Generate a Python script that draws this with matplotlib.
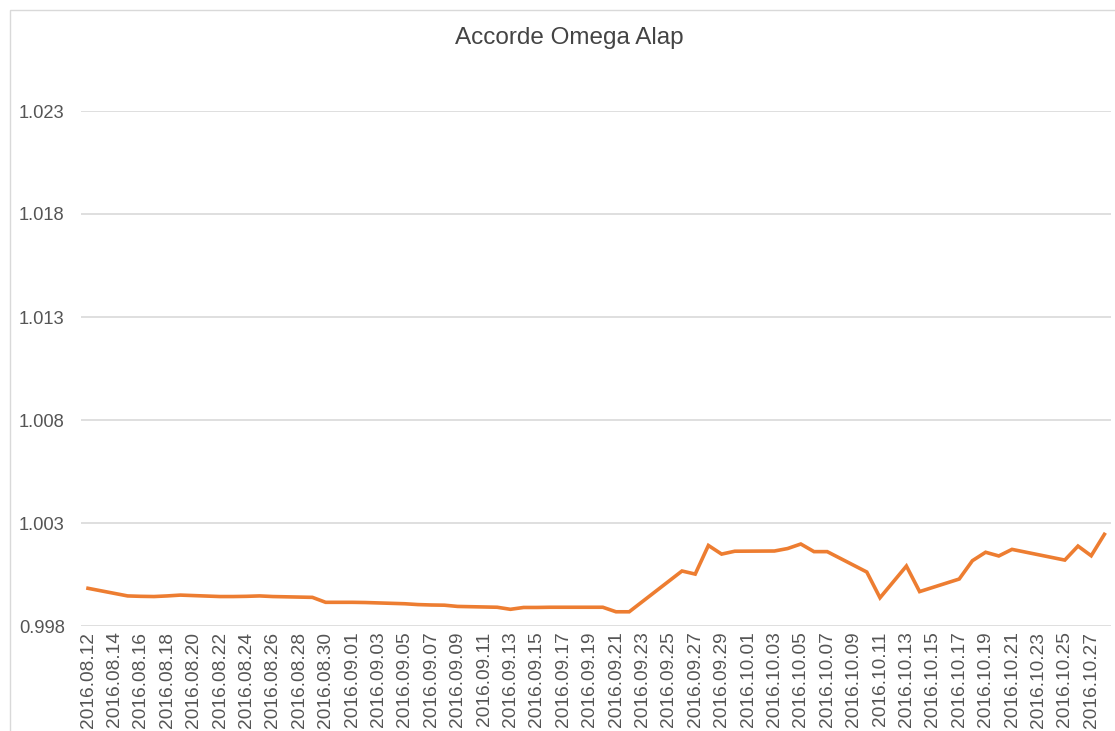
import numpy as np
import pandas as pd
import matplotlib
matplotlib.use('Agg')
import matplotlib.pyplot as plt
import matplotlib.dates as mdates
from matplotlib.patches import Rectangle

# Daily net asset values (only visible vertices)
dates = ['2016.08.12', '2016.08.15', '2016.08.16', '2016.08.17', '2016.08.18',
         '2016.08.19', '2016.08.22', '2016.08.23', '2016.08.24', '2016.08.25',
         '2016.08.26', '2016.08.29', '2016.08.30', '2016.08.31', '2016.09.01',
         '2016.09.02', '2016.09.05', '2016.09.06', '2016.09.07', '2016.09.08',
         '2016.09.09', '2016.09.12', '2016.09.13', '2016.09.14', '2016.09.15',
         '2016.09.16', '2016.09.19', '2016.09.20', '2016.09.21', '2016.09.22',
         '2016.09.26', '2016.09.27', '2016.09.28', '2016.09.29', '2016.09.30',
         '2016.10.03', '2016.10.04', '2016.10.05', '2016.10.06', '2016.10.07',
         '2016.10.10', '2016.10.11', '2016.10.13', '2016.10.14', '2016.10.17',
         '2016.10.18', '2016.10.19', '2016.10.20', '2016.10.21', '2016.10.25',
         '2016.10.26', '2016.10.27', '2016.10.28']
values = [0.99983, 0.99946, 0.99944, 0.99943, 0.99946,
          0.99950, 0.99943, 0.99943, 0.99944, 0.99946,
          0.99943, 0.99939, 0.99915, 0.99915, 0.99915,
          0.99914, 0.99908, 0.99904, 0.99902, 0.99901,
          0.99895, 0.99891, 0.99881, 0.99890, 0.99890,
          0.99891, 0.99891, 0.99891, 0.99869, 0.99869,
          1.00067, 1.00052, 1.00191, 1.00149, 1.00163,
          1.00164, 1.00176, 1.00198, 1.00161, 1.00161,
          1.00062, 0.99937, 1.00091, 0.99967, 1.00028,
          1.00117, 1.00158, 1.00140, 1.00172, 1.00120,
          1.00188, 1.00141, 1.00245]
y_ticks = [0.998, 1.003, 1.008, 1.013, 1.018, 1.023]
title = 'Accorde Omega Alap'

plt.rcParams['font.family'] = ['Liberation Sans', 'DejaVu Sans']

x = pd.to_datetime(dates, format='%Y.%m.%d')

fig = plt.figure(figsize=(11.15, 7.31), dpi=100)
# light frame of the chart container (right/bottom edges fall outside)
fig.patches.append(Rectangle((10/1115., -0.1), 1.2, 1.1 - 10/731.,
                             transform=fig.transFigure, fill=False,
                             edgecolor='#d9d9d9', linewidth=1.0))
ax = fig.add_axes([81.4/1115., 1 - 626/731., (1111 - 81.4)/1115., (626 - 111)/731.])

ax.plot(x, values, color='#ED7D31', linewidth=2.6, solid_joinstyle='miter')

half = pd.Timedelta(hours=12)
ax.set_xlim(x[0] - half, x[-1] + half)
ax.set_ylim(y_ticks[0], y_ticks[-1])
ax.set_yticks(y_ticks)
ax.set_yticklabels(['%.3f' % v for v in y_ticks])
xt = pd.date_range(x[0], x[-1], freq='2D')
ax.set_xticks(xt)
ax.xaxis.set_major_formatter(mdates.DateFormatter('%Y.%m.%d'))

ax.grid(axis='y', color='#dcdcdc', linewidth=1.3)
ax.set_axisbelow(True)
for s in ax.spines.values():
    s.set_visible(False)
ax.tick_params(axis='y', length=0, pad=12, labelsize=13.2, labelcolor='#555555')
ax.tick_params(axis='x', length=0, pad=4, labelsize=13.8, labelcolor='#555555',
               rotation=90)
for lab in ax.get_xticklabels():
    lab.set_x(lab.get_position()[0])

fig.text(569/1115., 1 - 38/731., title, ha='center', va='center',
         fontsize=17.5, color='#444444')

fig.savefig('out.png', dpi=100)
